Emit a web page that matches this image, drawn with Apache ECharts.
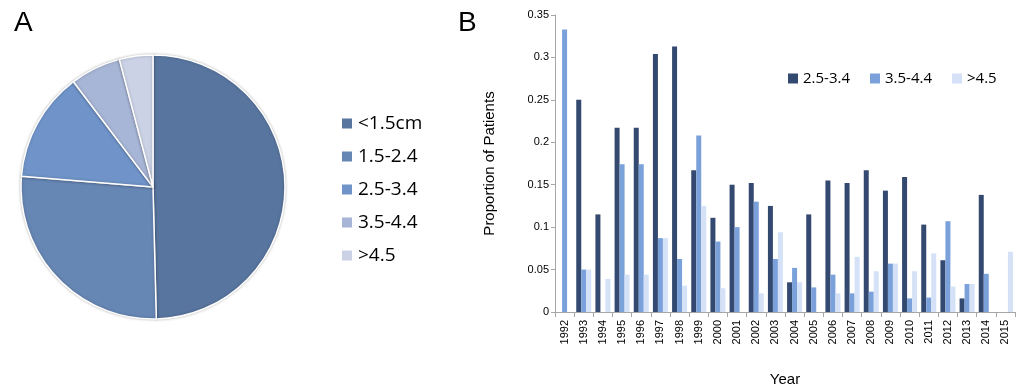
<!DOCTYPE html>
<html>
<head>
<meta charset="utf-8">
<script src="https://cdn.jsdelivr.net/npm/echarts@6/dist/echarts.min.js"></script>
<style>
  html, body { margin: 0; padding: 0; background: #fff; }
  #pie { position: absolute; left: 0; top: 0; width: 440px; height: 389px; }
  #bar { position: absolute; left: 440px; top: 0; width: 587px; height: 389px; }
</style>
</head>
<body>
<div id="pie"></div>
<div id="bar"></div>
<script>
// A: share of tumour sizes
const sizeNames = ['<1.5cm', '1.5-2.4', '2.5-3.4', '3.5-4.4', '>4.5'];
const sizeShare = [49.6, 26.7, 13.4, 6.2, 4.1];
const pieColors = ['#58759f', '#6686b4', '#7094c9', '#a7b5d6', '#cbd2e6'];

// B: proportion of patients per year
const years = ['1992', '1993', '1994', '1995', '1996', '1997', '1998', '1999', '2000', '2001', '2002', '2003',
    '2004', '2005', '2006', '2007', '2008', '2009', '2010', '2011', '2012', '2013', '2014', '2015'];
const size25 = [0, 0.25, 0.115, 0.217, 0.217, 0.304, 0.313, 0.167, 0.111, 0.15, 0.152, 0.125,
    0.035, 0.115, 0.155, 0.152, 0.167, 0.143, 0.159, 0.103, 0.061, 0.016, 0.138, 0];
const size35 = [0.333, 0.05, 0, 0.174, 0.174, 0.087, 0.0625, 0.208, 0.083, 0.1, 0.13, 0.0625,
    0.052, 0.029, 0.044, 0.022, 0.024, 0.057, 0.016, 0.017, 0.107, 0.033, 0.045, 0];
const size45 = [0, 0.05, 0.039, 0.044, 0.044, 0.087, 0.031, 0.125, 0.028, 0, 0.022, 0.094,
    0.035, 0, 0.022, 0.065, 0.048, 0.057, 0.048, 0.069, 0.03, 0.033, 0, 0.071];
const barNames = ['2.5-3.4', '3.5-4.4', '>4.5'];
const barColors = ['#34496f', '#7aa1da', '#d4e1f6'];
const yTicks = [0, 0.05, 0.1, 0.15, 0.2, 0.25, 0.3, 0.35];

const pieChart = echarts.init(document.getElementById('pie'));
pieChart.setOption({
    animation: false,
    title: {
        text: 'A', left: 9, top: 4,
        textStyle: { fontSize: 28, fontWeight: 'normal', color: '#000', fontFamily: 'Liberation Sans' }
    },
    legend: {
        orient: 'vertical',
        left: 340,
        top: 114,
        padding: 0,
        itemWidth: 12,
        itemHeight: 12,
        itemGap: 14,
        icon: 'rect',
        textStyle: { fontSize: 19, color: '#000', fontFamily: 'Open Sans' },
        data: sizeNames
    },
    series: [{
        type: 'pie',
        center: [153, 187],
        radius: 132,
        startAngle: 90,
        clockwise: true,
        label: { show: false },
        labelLine: { show: false },
        itemStyle: {
            borderColor: '#fff', borderWidth: 1.5,
            shadowBlur: 3, shadowColor: 'rgba(0,0,0,0.25)'
        },
        data: sizeNames.map((n, i) => ({ name: n, value: sizeShare[i], itemStyle: { color: pieColors[i] } }))
    }]
});

const barChart = echarts.init(document.getElementById('bar'));
barChart.setOption({
    animation: false,
    title: {
        text: 'B', left: 13, top: 4,
        textStyle: { fontSize: 28, fontWeight: 'normal', color: '#000', fontFamily: 'Liberation Sans' }
    },
    legend: {
        left: 348,
        top: 71,
        padding: 0,
        itemWidth: 10,
        itemHeight: 10,
        itemGap: 20,
        icon: 'rect',
        textStyle: { fontSize: 15, color: '#000', fontFamily: 'Open Sans' },
        data: barNames
    },
    grid: { left: 115, right: 12, top: 15, bottom: 77, containLabel: false, outerBoundsMode: 'none' },
    xAxis: {
        type: 'category',
        data: years,
        name: 'Year',
        nameLocation: 'middle',
        nameGap: 60,
        nameTextStyle: { fontSize: 15, color: '#000', fontFamily: 'Liberation Sans' },
        axisLine: { lineStyle: { color: '#a6a6a6' } },
        axisTick: { show: true, length: 5, lineStyle: { color: '#a6a6a6' } },
        axisLabel: { rotate: 90, interval: 0, fontSize: 11, color: '#000', fontFamily: 'Liberation Sans', margin: 8 }
    },
    yAxis: {
        type: 'value',
        min: 0,
        max: 0.35,
        interval: 0.05,
        name: 'Proportion of Patients',
        nameLocation: 'middle',
        nameGap: 58,
        nameTextStyle: { fontSize: 15, color: '#000', fontFamily: 'Liberation Sans' },
        splitLine: { show: false },
        axisLine: { show: true, lineStyle: { color: '#a6a6a6' } },
        axisTick: { show: true, length: 4, lineStyle: { color: '#a6a6a6' } },
        axisLabel: {
            fontSize: 11, color: '#000', fontFamily: 'Liberation Sans', margin: 6,
            formatter: v => String(yTicks.find(t => Math.abs(t - v) < 1e-9) ?? v)
        }
    },
    series: [size25, size35, size45].map((d, i) => ({
        name: barNames[i],
        type: 'bar',
        data: d,
        barWidth: 5,
        barGap: '0%',
        itemStyle: { color: barColors[i] }
    }))
});
</script>
</body>
</html>
